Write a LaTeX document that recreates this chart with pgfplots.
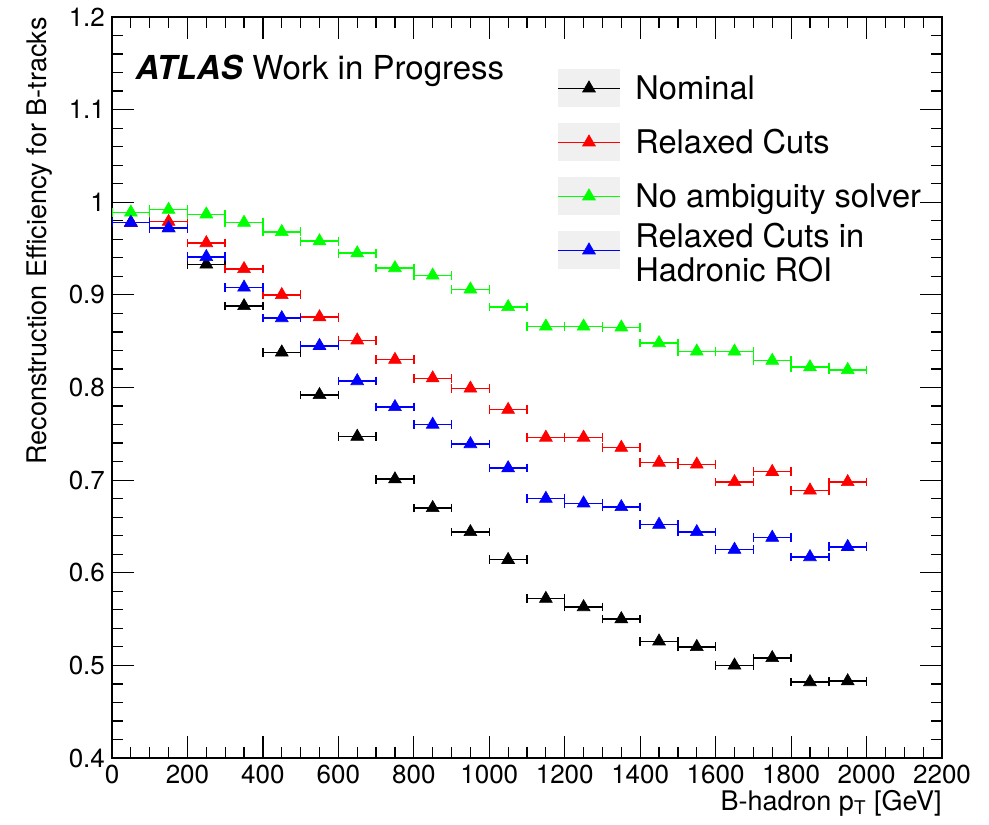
\documentclass[border=0pt]{standalone}
\usepackage{fontspec}
\setmainfont{TeX Gyre Heros}
\usepackage{pgfplots}
\pgfplotsset{compat=1.18}
\usepackage{pgfplotstable}

% Reconstruction efficiency per B-hadron pT bin (bin centre, half width)
\pgfplotstableread{
x    ex  nom    rel    amb    roi
50   50  0.978  0.978  0.989  0.978
150  50  0.972  0.979  0.992  0.972
250  50  0.933  0.956  0.987  0.941
350  50  0.888  0.928  0.978  0.908
450  50  0.838  0.900  0.968  0.875
550  50  0.792  0.876  0.958  0.845
650  50  0.747  0.851  0.945  0.807
750  50  0.701  0.830  0.929  0.779
850  50  0.670  0.810  0.921  0.760
950  50  0.644  0.799  0.906  0.739
1050 50  0.614  0.776  0.887  0.713
1150 50  0.572  0.746  0.866  0.680
1250 50  0.563  0.746  0.866  0.675
1350 50  0.550  0.735  0.865  0.671
1450 50  0.526  0.719  0.848  0.652
1550 50  0.520  0.717  0.839  0.644
1650 50  0.500  0.698  0.839  0.625
1750 50  0.508  0.709  0.829  0.638
1850 50  0.482  0.689  0.822  0.617
1950 50  0.483  0.698  0.819  0.628
}\efftable

\pgfplotsset{
  % legend row: grey pad with a short line and the triangle marker,
  % and the entry text to its right (#2 = text baseline offset from the line)
  legimg/.style n args={3}{legend image code/.code={
      \fill[black!6, draw=none] (0pt,-9.5pt) rectangle (31pt,9.5pt);
      \draw[#1, line width=0.7pt] (0pt,0pt) -- (31pt,0pt);
      \path[draw=#1, fill=#1] plot[only marks, mark=triangle*, mark size=3.7pt] coordinates {(15.5pt,0pt)};
      \node[overlay, anchor=base west, inner sep=0pt, text=black,
        font=\fontsize{16.3}{16.5}\selectfont] at (38.5pt,#2) {#3};
  }},
  bins/.style={only marks, mark=triangle*, mark size=3.7pt, color=#1,
    mark options={fill=#1, draw=#1, line width=0.3pt},
    error bars/.cd, x dir=both, x explicit, y dir=none,
    error mark=|,
    error bar style={line width=0.7pt, #1},
    error mark options={mark size=2.2pt, line width=0.7pt, #1}},
}

\begin{document}
\begin{tikzpicture}
\useasboundingbox (0,0) rectangle (494.5pt,412pt);
\begin{axis}[
  at={(56pt,33pt)}, anchor=south west,
  scale only axis, width=415pt, height=370.5pt,
  xmin=0, xmax=2200, ymin=0.4, ymax=1.2,
  xtick={0,200,...,2200}, minor x tick num=3,
  ytick={0.4,0.5,0.6,0.7,0.8,0.9,1.0,1.1,1.2}, minor y tick num=4,
  yticklabels={0.4,0.5,0.6,0.7,0.8,0.9,1,1.1,1.2},
  tick align=inside, major tick length=11pt, minor tick length=5.5pt,
  axis line style={line width=0.8pt},
  every tick/.style={black, line width=0.6pt},
  tick label style={font=\fontsize{13}{15}\selectfont},
  /pgf/number format/assume math mode=true,
  /pgf/number format/1000 sep={},
  xlabel={B-hadron p\textsubscript{T} [GeV]},
  xlabel style={at={(axis description cs:1,0)}, anchor=north east, inner sep=0pt,
    yshift=-16pt, font=\fontsize{13.5}{16}\selectfont},
  ylabel={Reconstruction Efficiency for B-tracks},
  ylabel style={at={(axis description cs:-0.075,1)}, anchor=south east, inner sep=0pt,
    yshift=-1.5pt, font=\fontsize{13.5}{16}\selectfont},
  legend style={at={(axis description cs:0.536,0.930)}, anchor=north west,
    draw=none, fill=none, inner sep=0pt, row sep=8pt, column sep=0pt,
    nodes={inner sep=0pt}},
  legend cell align=left,
]
\addplot[legimg={black}{-5.85pt}{Nominal}, bins=black]
  table[x=x, y=nom, x error=ex] {\efftable};
\addlegendentry{\mbox{}}
\addplot[legimg={red}{-5.85pt}{Relaxed Cuts}, bins=red]
  table[x=x, y=rel, x error=ex] {\efftable};
\addlegendentry{\mbox{}}
\addplot[legimg={green}{-5.85pt}{No ambiguity solver}, bins=green]
  table[x=x, y=amb, x error=ex] {\efftable};
\addlegendentry{\mbox{}}
\addplot[legimg={blue}{1.5pt}{\begin{tabular}[t]{@{}l@{}}Relaxed Cuts in\\Hadronic ROI\end{tabular}}, bins=blue]
  table[x=x, y=roi, x error=ex] {\efftable};
\addlegendentry{\mbox{}}

\node[anchor=base west, inner sep=0pt, font=\fontsize{16.5}{18}\selectfont]
  at (rel axis cs:0.028,0.915) {\textbf{\textit{ATLAS}} Work in Progress};
\end{axis}
\end{tikzpicture}
\end{document}
